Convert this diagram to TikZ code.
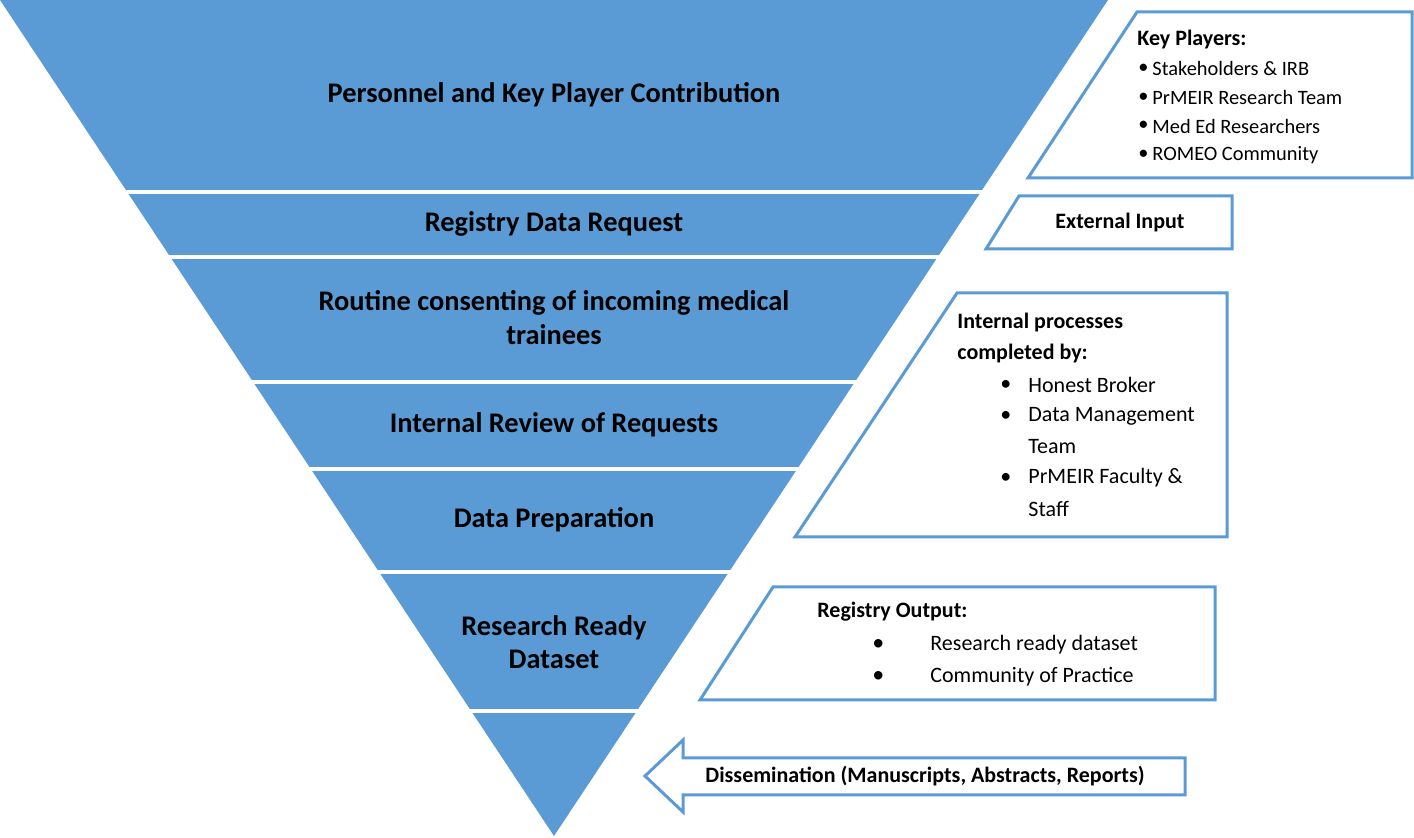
\documentclass[tikz,border=0pt]{standalone}
\usepackage{fontspec}
\setmainfont{Carlito}
\definecolor{funnelblue}{HTML}{5B9BD5}
\tikzset{
  bandtext/.style={font=\bfseries\fontsize{14.2}{16}\selectfont, align=center, inner sep=0pt},
  sidebox/.style={draw=funnelblue, line width=1.5pt, fill=white},
  boxtitle/.style={font=\bfseries\fontsize{11}{13}\selectfont, anchor=west, inner sep=0pt},
  boxitem/.style={font=\fontsize{10.2}{12}\selectfont, anchor=west, inner sep=0pt},
  bigitem/.style={font=\fontsize{11}{13}\selectfont, anchor=west, inner sep=0pt},
}
\begin{document}
\begin{tikzpicture}[x=0.5pt,y=-0.5pt]
  \useasboundingbox (0,0) rectangle (1414,838);
  \coordinate (tl) at (0,0);
  \coordinate (tr) at (1108,0);
  \coordinate (apex) at (554,836);

  \fill[funnelblue] (tl) -- (tr) -- (apex) -- cycle;
  \foreach \y in {192,257,382,469,572,711}
    \draw[white, line width=2pt] (0,\y) -- (1108,\y);

  \node[bandtext] (personnel) at (554,95) {Personnel and Key Player Contribution};
  \node[bandtext] (request) at (554,224) {Registry Data Request};
  \node[bandtext] (consent) at (554,303) {Routine consenting of incoming medical};
  \node[bandtext] (consentb) at (554,335) {trainees};
  \node[bandtext] (review) at (554,425) {Internal Review of Requests};
  \node[bandtext] (prep) at (554,520) {Data Preparation};
  \node[bandtext] (ready) at (554,628) {Research Ready};
  \node[bandtext] (readyb) at (554,659) {Dataset};

  \draw[sidebox] (1137,12) -- (1412,12) -- (1412,178) -- (1028,178) -- cycle;
  \node[boxtitle] (keyplayers) at (1137,40) {Key Players:};
  \foreach \t [count=\i] in {Stakeholders \& IRB, PrMEIR Research Team, Med Ed Researchers, ROMEO Community} {
    \node[boxitem] (kpb\i) at (1138,40+28.7*\i) {\textbullet};
    \node[boxitem] (kp\i) at (1152,40+28.7*\i) {\t};
  }

  \draw[sidebox] (1019,196) -- (1232,196) -- (1232,249) -- (986,249) -- cycle;
  \node[boxtitle, anchor=center] (external) at (1120,223) {External Input};

  \draw[sidebox] (957,293) -- (1227,293) -- (1227,537) -- (795,537) -- cycle;
  \node[boxtitle] (internal) at (957,323) {Internal processes};
  \node[boxtitle] (completed) at (957,354) {completed by:};
  \node[bigitem] (ipb1) at (1000,385) {\textbullet};
  \node[bigitem] (ip1) at (1028,385) {Honest Broker};
  \node[bigitem] (ipb2) at (1000,416) {\textbullet};
  \node[bigitem] (ip2) at (1028,416) {Data Management};
  \node[bigitem] (ip2b) at (1028,447) {Team};
  \node[bigitem] (ipb3) at (1000,478) {\textbullet};
  \node[bigitem] (ip3) at (1028,478) {PrMEIR Faculty \&};
  \node[bigitem] (ip3b) at (1028,509) {Staff};

  \draw[sidebox] (773,587) -- (1215,587) -- (1215,700) -- (700,700) -- cycle;
  \node[boxtitle] (output) at (817,612) {Registry Output:};
  \node[bigitem] (rob1) at (872,645) {\large\textbullet};
  \node[bigitem] (ro1) at (930,645) {Research ready dataset};
  \node[bigitem] (rob2) at (872,677) {\large\textbullet};
  \node[bigitem] (ro2) at (930,677) {Community of Practice};

  \draw[sidebox] (645,776) -- (683,740) -- (683,758) -- (1185,758) -- (1185,795) -- (683,795) -- (683,812) -- cycle;
  \node[boxtitle, anchor=center] (dissem) at (925,776) {Dissemination (Manuscripts, Abstracts, Reports)};
\end{tikzpicture}
\end{document}
